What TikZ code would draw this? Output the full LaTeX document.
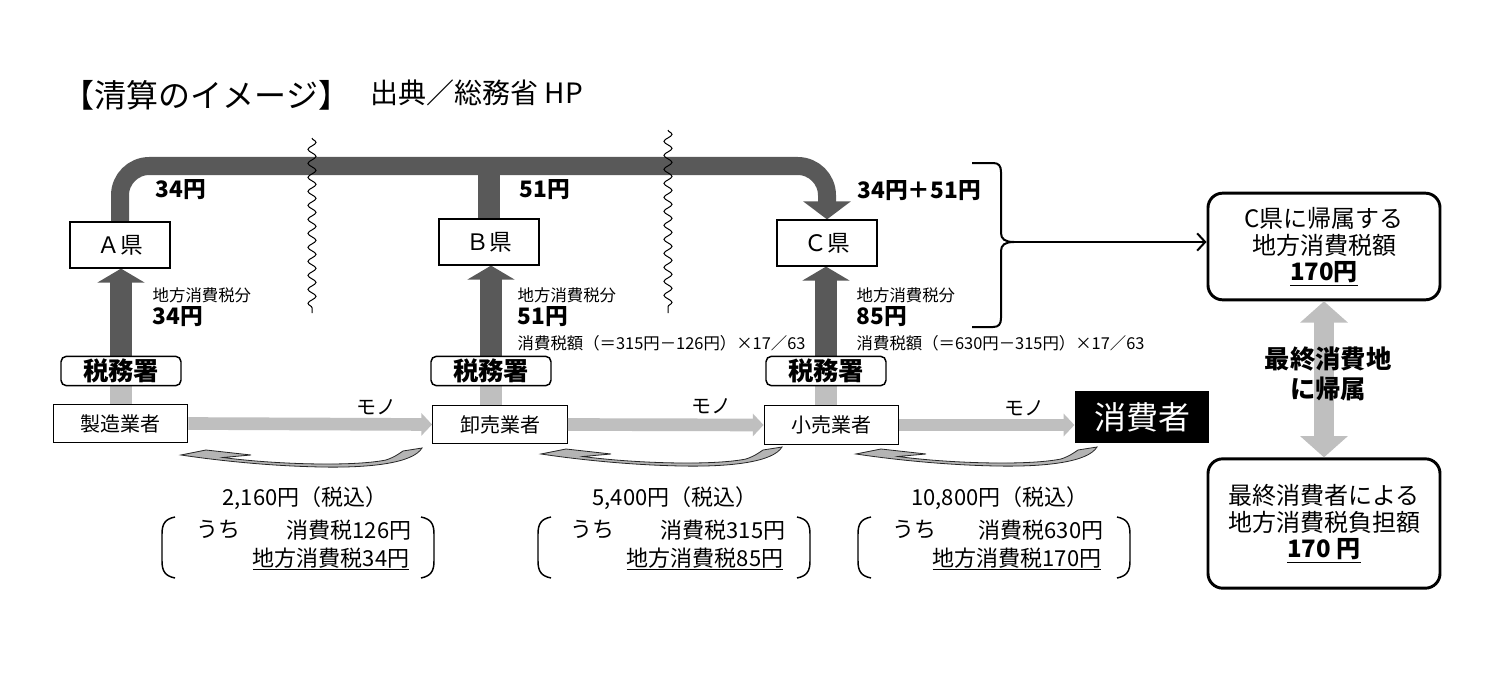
\documentclass[tikz,border=0pt]{standalone}
\usepackage{fontspec}
\setmainfont{Noto Sans CJK JP}
\usetikzlibrary{arrows.meta,decorations.pathmorphing,backgrounds,calc}
\definecolor{dgray}{HTML}{595959}
\definecolor{lgray}{HTML}{BFBFBF}
\definecolor{cgray}{HTML}{B4B4B4}
\newcommand\kaerisen[1]{\filldraw[curv, shift={#1}] (0,0) -- (25,-5) -- (70,0) -- (42,2.5) .. controls (90,9) and (170,12) .. (205,5) .. controls (214,2) and (219,-2) .. (222,-4) -- (241,-7) .. controls (232,8) and (190,13) .. (140,12) .. controls (90,11) and (40,6) .. cycle;}
\newcommand\kakko[2]{%
\draw[paren] ({#1+13},517) .. controls ({#1+3},519) and (#1,524) .. (#1,534) -- (#1,561) .. controls (#1,571) and ({#1+3},576) .. ({#1+13},578);
\draw[paren] ({#2-13},517) .. controls ({#2-3},519) and (#2,524) .. (#2,534) -- (#2,561) .. controls (#2,571) and ({#2-3},576) .. ({#2-13},578);}
\begin{document}
\begin{tikzpicture}[x=0.75pt,y=-0.75pt,
  kenbox/.style={draw, fill=white, line width=0.9pt, minimum width=75pt, minimum height=34.5pt, inner sep=0pt, font=\fontsize{17}{17}\selectfont},
  zeibox/.style={draw, fill=white, rounded corners=4pt, line width=1.1pt, minimum width=90pt, minimum height=22pt, inner sep=0pt, font=\bfseries\fontsize{19}{19}\selectfont},
  gyobox/.style={draw, fill=white, line width=0.9pt, minimum width=101pt, minimum height=29pt, inner sep=0pt, font=\fontsize{15}{15}\selectfont},
  shbox/.style={fill=black, text=white, minimum width=101pt, minimum height=39pt, inner sep=0pt, font=\fontsize{24}{24}\selectfont},
  rbox/.style={draw, fill=white, rounded corners=11pt, line width=2.2pt, minimum width=174pt, inner sep=0pt, align=center, font=\fontsize{18}{20}\selectfont},
  pipe/.style={draw=dgray, line width=13.5pt, rounded corners=22pt},
  darkup/.style={draw=dgray, line width=16.5pt, -{Triangle[width=35pt,length=10.5pt]}},
  lightshaft/.style={draw=lgray, line width=17pt},
  harrow/.style={draw=lgray, line width=9.5pt, -{Triangle[width=16.5pt,length=8pt]}},
  dblarrow/.style={draw=lgray, line width=15pt, {Triangle[width=35pt,length=16pt]}-{Triangle[width=35pt,length=16pt]}},
  wavy/.style={draw, line width=0.75pt, decorate, decoration={snake, segment length=10.5pt, amplitude=3pt}},
  curv/.style={fill=cgray, draw=black!85, line width=0.6pt, line join=miter},
  paren/.style={draw, line width=1.1pt},
  small/.style={font=\fontsize{12.3}{12.3}\selectfont},
  amt/.style={font=\bfseries\fontsize{17}{17}\selectfont},
  mono/.style={font=\fontsize{15}{15}\selectfont},
  btxt/.style={font=\fontsize{16.5}{16.5}\selectfont}
]
\useasboundingbox (0,0) rectangle (1490,685);

% title
\node[anchor=west, font=\fontsize{24}{24}\selectfont] (title) at (58,95) {【清算のイメージ】};
\node[anchor=west, font=\fontsize{21}{21}\selectfont] (src) at (366,93) {出典／総務省 HP};

% prefecture boxes
\node[kenbox] (kA) at (120,245) {Ａ県};
\node[kenbox] (kB) at (489,242) {Ｂ県};
\node[kenbox] (kC) at (827,243) {Ｃ県};
% tax offices
\node[zeibox] (zA) at (121,371) {税務署};
\node[zeibox] (zB) at (491,371) {税務署};
\node[zeibox] (zC) at (826,371) {税務署};
% businesses
\node[gyobox] (gA) at (120.5,423.5) {製造業者};
\node[gyobox] (gB) at (500,424.5) {卸売業者};
\node[gyobox] (gC) at (831.5,425) {小売業者};
\node[shbox] (sh) at (1142,417) {消費者};

\coordinate (topL) at (0,166);
\begin{pgfonlayer}{background}
  \fill[white] (0,0) rectangle (1490,685);
  \draw[pipe, -{Triangle[width=35pt,length=13.5pt]}] (kA.north) -- (kA.north |- topL) -- (kC.north |- topL) -- (kC.north);
  \draw[pipe, line width=16pt] (kB.north) -- (kB.north |- topL);
  \draw[lightshaft] (zA.center |- gA.north) -- (zA.center);
  \draw[lightshaft] (zB.center |- gB.north) -- (zB.center);
  \draw[lightshaft] (zC.center |- gC.north) -- (zC.center);
  \draw[darkup] (zA.center) -- (zA.center |- kA.south);
  \draw[darkup] (zB.center) -- (zB.center |- kB.south);
  \draw[darkup] (zC.center) -- (zC.center |- kC.south);
\end{pgfonlayer}

% goods arrows
\draw[harrow] (gA.east) -- (gB.west);
\draw[harrow] (gB.east) -- (gC.west);
\draw[harrow] (gC.east) -- (gC.east -| sh.west);
\node[mono] (m1) at (376,407) {モノ};
\node[mono] (m2) at (711,406) {モノ};
\node[mono] (m3) at (1024,408) {モノ};

% top amounts
\node[amt, anchor=west] (t1) at (151,190) {34円};
\node[amt, anchor=west] (t2) at (515,190) {51円};
\node[amt, anchor=west] (t3) at (853,191) {34円＋51円};

% labels near arrows
\node[small, anchor=west] (lA1) at (148,295) {地方消費税分};
\node[amt, anchor=west] (lA2) at (148,317) {34円};
\node[small, anchor=west] (lB1) at (513,295) {地方消費税分};
\node[amt, anchor=west] (lB2) at (513,317) {51円};
\node[small, anchor=west] (lB3) at (513,343) {消費税額（＝315円－126円）×17／63};
\node[small, anchor=west] (lC1) at (852,295) {地方消費税分};
\node[amt, anchor=west] (lC2) at (852,317) {85円};
\node[small, anchor=west] (lC3) at (852,343) {消費税額（＝630円－315円）×17／63};

% wavy separators
\draw[wavy] (312,138) -- (312,313);
\draw[wavy] (668,130) -- (668,313);

% brace and arrow
\node[rbox, minimum height=80pt] (r1) at (1324,246.5) {C県に帰属する\\地方消費税額\\\textbf{\underline{170円}}};
\node[rbox, minimum height=97pt] (r2) at (1324,523.5) {最終消費者による\\地方消費税負担額\\\textbf{\underline{170 円}}};
\draw[line width=1.5pt] (972,163) -- (993,163) .. controls (999,163) and (1001,166) .. (1001,172) -- (1001,233) .. controls (1001,239) and (1005,242) .. (1014,242) .. controls (1005,242) and (1001,245) .. (1001,251) -- (1001,318) .. controls (1001,324) and (999,327) .. (993,327) -- (972,327);
\coordinate (btip) at (1014,242);
\draw[line width=1.5pt, -{Straight Barb[length=6pt,width=13pt]}] (btip) -- (btip -| r1.west);

% double arrow
\draw[dblarrow] (r1.south) -- (r2.north);
\node[align=center, font=\bfseries\fontsize{19}{23}\selectfont] (kizoku) at (1328,374) {最終消費地\\に帰属};

% curved return arrows
\kaerisen{(181,455)}
\kaerisen{(541,454)}
\kaerisen{(856,454)}

% price blocks
\kakko{162}{434}
\kakko{538}{810}
\kakko{858}{1130}
\node[btxt] (p1) at (305,498) {2,160円（税込）};
\node[btxt, anchor=west] (p1a) at (192,530) {うち};
\node[btxt, anchor=east] (p1b) at (416,530) {消費税126円};
\node[btxt, anchor=base east] (p1c) at (414,566) {\underline{地方消費税34円}};
\node[btxt] (p2) at (675,498) {5,400円（税込）};
\node[btxt, anchor=west] (p2a) at (566,530) {うち};
\node[btxt, anchor=east] (p2b) at (790,530) {消費税315円};
\node[btxt, anchor=base east] (p2c) at (788,566) {\underline{地方消費税85円}};
\node[btxt] (p3) at (1000,498) {10,800円（税込）};
\node[btxt, anchor=west] (p3a) at (888,530) {うち};
\node[btxt, anchor=east] (p3b) at (1108,530) {消費税630円};
\node[btxt, anchor=base east] (p3c) at (1106,566) {\underline{地方消費税170円}};
\end{tikzpicture}
\end{document}
